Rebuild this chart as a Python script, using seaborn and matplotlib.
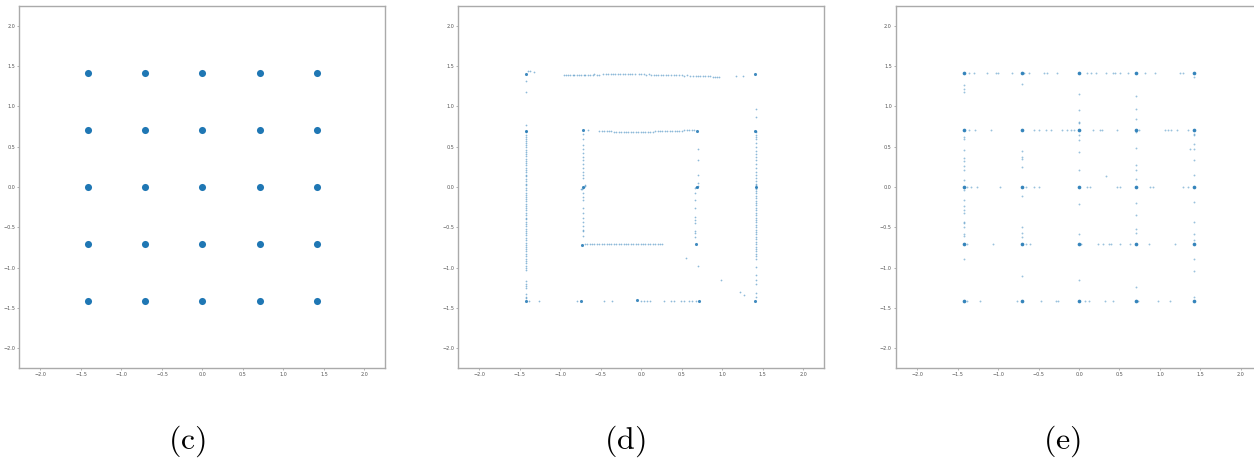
import numpy as np
import pandas as pd
import matplotlib
matplotlib.use("Agg")
import matplotlib.pyplot as plt
import seaborn as sns

# grid node positions (shared by all three panels)
grid_vals = [-1.414, -0.707, 0.0, 0.707, 1.414]

# ---- panel (d) ----
d_top_x = [-0.96, -0.93, -0.91, -0.88, -0.85, -0.83, -0.80, -0.77,
           -0.74, -0.71, -0.69, -0.66, -0.63, -0.60, -0.58, -0.55,
           -0.52, -0.47, -0.44, -0.41, -0.38, -0.35, -0.32, -0.29,
           -0.26, -0.23, -0.20, -0.17, -0.14, -0.11, -0.08, -0.03,
           0.00, 0.03, 0.06, 0.09, 0.12, 0.15, 0.18, 0.21,
           0.24, 0.27, 0.30, 0.33, 0.37, 0.40, 0.43, 0.46,
           0.50, 0.53, 0.56, 0.60, 0.64, 0.67, 0.70, 0.73,
           0.76, 0.79, 0.82, 0.85, 0.88, 0.91, 0.94, 0.96]
d_top_y = [1.385, 1.386, 1.384, 1.387, 1.388, 1.386, 1.389, 1.390,
           1.391, 1.392, 1.390, 1.393, 1.394, 1.392, 1.395, 1.393,
           1.394, 1.396, 1.395, 1.396, 1.397, 1.395, 1.396, 1.397,
           1.396, 1.397, 1.395, 1.396, 1.397, 1.396, 1.395, 1.396,
           1.395, 1.396, 1.394, 1.395, 1.394, 1.393, 1.394, 1.392,
           1.391, 1.392, 1.390, 1.389, 1.388, 1.387, 1.385, 1.386,
           1.384, 1.382, 1.383, 1.380, 1.378, 1.379, 1.376, 1.377,
           1.375, 1.373, 1.374, 1.371, 1.370, 1.368, 1.367, 1.366]

d_left_x = -1.43
d_left_y = [0.70, 0.68, 0.65, 0.62, 0.60, 0.57, 0.54, 0.52, 0.49, 0.46,
            0.43, 0.41, 0.38, 0.35, 0.32, 0.30, 0.27, 0.24, 0.21, 0.18,
            0.15, 0.13, 0.10, 0.07, 0.04, 0.02, -0.01, -0.04, -0.07, -0.10,
            -0.12, -0.15, -0.18, -0.21, -0.24, -0.26, -0.29, -0.32, -0.35, -0.38,
            -0.40, -0.43, -0.46, -0.49, -0.52, -0.55, -0.57, -0.60, -0.63, -0.66,
            -0.69, -0.72, -0.74, -0.77, -0.80, -0.83, -0.86, -0.89, -0.92, -0.95,
            -0.98, -1.01, -1.03, -1.17, -1.20, -1.23, -1.25, -1.33, -1.36, -1.38]

d_right_x = 1.41
d_right_y = [0.97, 0.87, 0.70, 0.68, 0.65, 0.62, 0.59, 0.55, 0.50, 0.45,
             0.41, 0.37, 0.33, 0.28, 0.24, 0.19, 0.15, 0.11, 0.07, 0.04,
             0.02, 0.00, -0.02, -0.05, -0.08, -0.11, -0.14, -0.17, -0.20, -0.23,
             -0.26, -0.29, -0.32, -0.35, -0.38, -0.41, -0.44, -0.47, -0.50, -0.53,
             -0.56, -0.59, -0.62, -0.65, -0.68, -0.71, -0.74, -0.77, -0.80, -0.83,
             -0.86, -0.89, -0.99, -1.09, -1.15, -1.20, -1.32, -1.36]

d_itop_x = [-0.66, -0.52, -0.49, -0.46, -0.43, -0.40, -0.37, -0.34, -0.31, -0.28,
            -0.25, -0.22, -0.19, -0.16, -0.13, -0.10, -0.07, -0.04, -0.01, 0.02,
            0.05, 0.08, 0.11, 0.14, 0.17, 0.20, 0.23, 0.26, 0.29, 0.32,
            0.35, 0.38, 0.41, 0.44, 0.47, 0.50, 0.53, 0.56, 0.59, 0.62, 0.65]
d_itop_y = [0.710, 0.700, 0.698, 0.695, 0.693, 0.690, 0.688, 0.685, 0.683, 0.681,
            0.680, 0.679, 0.678, 0.680, 0.679, 0.680, 0.681, 0.680, 0.682, 0.683,
            0.684, 0.685, 0.686, 0.687, 0.688, 0.690, 0.691, 0.692, 0.693, 0.694,
            0.695, 0.696, 0.697, 0.698, 0.699, 0.700, 0.701, 0.702, 0.703, 0.704, 0.705]

d_ileft_x = -0.72
d_ileft_y = [0.66, 0.60, 0.52, 0.47, 0.42, 0.37, 0.33, 0.28, 0.24, 0.19, 0.15, 0.11,
             -0.07, -0.12, -0.16, -0.26, -0.32, -0.39, -0.43, -0.49, -0.53, -0.55, -0.61]
d_ileft_diag_x = [-0.74, -0.73, -0.72, -0.71, -0.70, -0.69]
d_ileft_diag_y = [-0.03, -0.02, -0.01, 0.00, 0.01, 0.02]

d_iright_up_x = 0.70
d_iright_up_y = [0.47, 0.33, 0.15, 0.05]
d_iright_lo_x = 0.665
d_iright_lo_y = [-0.07, -0.16, -0.26, -0.37, -0.41, -0.45, -0.55, -0.57, -0.62]
d_iright_diag_x = [0.66, 0.67, 0.68, 0.69, 0.70]
d_iright_diag_y = [-0.01, -0.005, 0.0, 0.005, 0.01]

d_ibot_y = -0.705
d_ibot_x = [-0.70, -0.67, -0.64, -0.61, -0.58, -0.55, -0.52, -0.49, -0.46, -0.43,
            -0.40, -0.37, -0.34, -0.31, -0.28, -0.25, -0.22, -0.19, -0.16, -0.13,
            -0.10, -0.07, -0.04, -0.01, 0.02, 0.05, 0.08, 0.11, 0.14, 0.17,
            0.20, 0.23, 0.26]

d_bot_y = -1.41
d_bot_x = [-1.39, -1.26, -0.79, -0.46, -0.36, -0.01, 0.03, 0.07, 0.11, 0.28,
           0.36, 0.40, 0.49, 0.53, 0.59, 0.63, 0.67]

d_cluster_x = [-1.43, 1.40, -1.43, 1.40, -0.72, 0.69, -0.72, 0.69, 1.41,
               -0.73, 0.68, -1.43, -0.74, -0.05, 0.71, 1.40]
d_cluster_y = [1.40, 1.40, 0.70, 0.695, 0.705, 0.70, 0.0, 0.0, 0.0,
               -0.72, -0.71, -1.41, -1.41, -1.40, -1.41, -1.42]

d_other_x = [-1.40, -1.38, -1.33, -1.43, -1.43, -1.42, 1.17, 1.25, 0.55, 0.70, 0.98, 1.22, 1.27]
d_other_y = [1.44, 1.44, 1.42, 1.31, 1.18, 0.77, 1.38, 1.38, -0.88, -0.98, -1.15, -1.30, -1.34]

# ---- panel (e) ----
e_row1_x = [-1.36, -1.30, -1.13, -1.03, -1.00, -0.83, -0.68, -0.62, -0.43, -0.40, -0.27,
            0.10, 0.15, 0.21, 0.33, 0.42, 0.44, 0.51, 0.60, 0.82, 0.94, 1.25, 1.29]
e_row2_x = [-1.36, -1.28, -1.09, -0.56, -0.49, -0.41, -0.34, -0.21, -0.15, -0.10, -0.06,
            0.17, 0.26, 0.29, 0.47, 0.74, 1.06, 1.10, 1.13, 1.21, 1.35]
e_row3_x = [-1.38, -1.33, -1.26, -0.98, -0.66, -0.56, -0.50, 0.10, 0.14, 0.47, 0.51,
            0.88, 0.91, 1.29, 1.35]
e_row4_x = [-1.38, -1.06, -0.65, -0.60, 0.03, 0.23, 0.30, 0.37, 0.39, 0.51, 0.63, 0.86, 1.19]
e_row5_x = [-1.38, -1.22, -0.76, -0.47, -0.29, -0.26, 0.07, 0.12, 0.32, 0.42, 0.73, 0.98, 1.12]

e_col1_y = [1.26, 1.22, 1.18, 0.62, 0.60, 0.46, 0.36, 0.32, 0.26, 0.21, 0.09, -0.04, -0.16,
            -0.24, -0.29, -0.32, -0.43, -0.45, -0.50, -0.58, -0.61, -0.89]
e_col2_y = [1.28, 0.44, 0.37, 0.35, 0.25, -0.11, -0.50, -0.57, -0.62, -1.10]
e_col3_y = [1.155, 0.96, 0.81, 0.79, 0.65, 0.58, 0.43, 0.21, -0.21, -0.59, -1.15]
e_col4_y = [1.13, 0.97, 0.84, 0.68, 0.48, 0.27, 0.21, 0.10, -0.20, -0.35, -0.52, -0.57, -1.24]
e_col5_y = [1.37, 0.66, 0.64, 0.53, 0.47, 0.33, 0.15, -0.19, -0.43, -0.58, -0.66, -0.90,
            -1.04, -1.36]

e_other_x = [0.33, 1.37]
e_other_y = [0.14, 0.47]

panel_labels = ["(c)", "(d)", "(e)"]
blue = "#1f77b4"

# build tables
nodes = pd.DataFrame([(x, y) for y in grid_vals for x in grid_vals], columns=["x", "y"])

d_pts = pd.concat([
    pd.DataFrame({"x": d_top_x, "y": d_top_y}),
    pd.DataFrame({"x": d_left_x, "y": d_left_y}),
    pd.DataFrame({"x": d_right_x, "y": d_right_y}),
    pd.DataFrame({"x": d_itop_x, "y": d_itop_y}),
    pd.DataFrame({"x": d_ileft_x, "y": d_ileft_y}),
    pd.DataFrame({"x": d_ileft_diag_x, "y": d_ileft_diag_y}),
    pd.DataFrame({"x": d_iright_up_x, "y": d_iright_up_y}),
    pd.DataFrame({"x": d_iright_lo_x, "y": d_iright_lo_y}),
    pd.DataFrame({"x": d_iright_diag_x, "y": d_iright_diag_y}),
    pd.DataFrame({"x": d_ibot_x, "y": d_ibot_y}),
    pd.DataFrame({"x": d_bot_x, "y": d_bot_y}),
    pd.DataFrame({"x": d_other_x, "y": d_other_y}),
], ignore_index=True)
d_clu = pd.DataFrame({"x": d_cluster_x, "y": d_cluster_y})

e_rows = [e_row1_x, e_row2_x, e_row3_x, e_row4_x, e_row5_x]
e_cols = [e_col1_y, e_col2_y, e_col3_y, e_col4_y, e_col5_y]
parts = []
for gy, xs in zip(grid_vals[::-1], e_rows):
    parts.append(pd.DataFrame({"x": xs, "y": gy}))
for gx, ys in zip(grid_vals, e_cols):
    parts.append(pd.DataFrame({"x": gx, "y": ys}))
parts.append(pd.DataFrame({"x": e_other_x, "y": e_other_y}))
e_pts = pd.concat(parts, ignore_index=True)

sns.set_style("white")
plt.rcParams["mathtext.fontset"] = "cm"
fig = plt.figure(figsize=(12.54, 4.65), dpi=100)
lefts = [0.0155, 0.3655, 0.7145]
axes = [fig.add_axes([l, 0.208, 0.2919, 0.780]) for l in lefts]

# (c) tight blobs at each node
sns.scatterplot(data=nodes, x="x", y="y", ax=axes[0], s=26, color=blue, linewidth=0)

# (d) square traces
sns.scatterplot(data=d_pts, x="x", y="y", ax=axes[1], s=1.6, color=blue, linewidth=0, alpha=0.5)
sns.scatterplot(data=d_clu, x="x", y="y", ax=axes[1], s=5, color=blue, linewidth=0, alpha=0.85)

# (e) grid nodes + sparse points along grid lines
sns.scatterplot(data=e_pts, x="x", y="y", ax=axes[2], s=1.8, color=blue, linewidth=0, alpha=0.45)
sns.scatterplot(data=nodes, x="x", y="y", ax=axes[2], s=7, color=blue, linewidth=0, alpha=0.9)

ticks = [-2.0, -1.5, -1.0, -0.5, 0.0, 0.5, 1.0, 1.5, 2.0]
for ax in axes:
    ax.set_xlim(-2.26, 2.26)
    ax.set_ylim(-2.25, 2.25)
    ax.set_xticks(ticks)
    ax.set_yticks(ticks)
    ax.set_xlabel("")
    ax.set_ylabel("")
    ax.tick_params(axis="both", which="both", bottom=True, left=True, length=1.5, width=0.4,
                   labelsize=3.5, labelcolor="#555555", color="#777777", pad=1.5)
    for sp in ax.spines.values():
        sp.set_color("#aaaaaa")
        sp.set_linewidth(1.0)

for l, lab in zip([0.149, 0.498, 0.847], panel_labels):
    fig.text(l, 0.052, r"$\mathrm{" + lab + "}$", ha="center", va="center",
             fontsize=23, color="black")

fig.savefig("out.png", dpi=100)
